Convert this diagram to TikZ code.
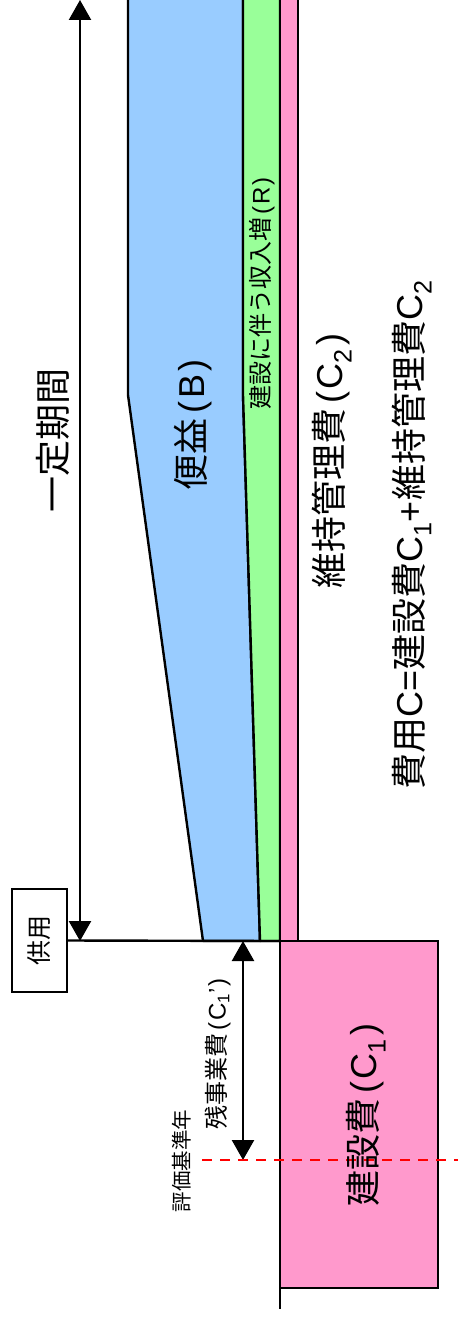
\documentclass[tikz,border=0pt]{standalone}
\usepackage{fontspec}
\setmainfont{Liberation Sans}
\newfontfamily\jp{Noto Sans CJK JP}
\usetikzlibrary{arrows.meta}
\definecolor{blueB}{RGB}{153,204,255}
\definecolor{greenR}{RGB}{153,255,153}
\definecolor{pinkC}{RGB}{255,153,204}
\newcommand{\lp}{\hspace{0.12em}(\hspace{0.08em}}
\newcommand{\rp}{\hspace{0.08em})}
\newcommand{\sbs}[1]{\textsubscript{#1}}
\begin{document}
\begin{tikzpicture}[x=1pt,y=-1pt,
  ln/.style={line width=2.4pt,draw=black},
  arr/.style={ln,{Triangle[width=22pt,length=20pt]}-{Triangle[width=22pt,length=20pt]}},
  big/.style={rotate=90,inner sep=0pt,font=\fontsize{36}{40}\selectfont},
  small/.style={rotate=90,inner sep=0pt,font=\fontsize{24}{28}\selectfont},
  tiny/.style={rotate=90,inner sep=0pt,font=\fontsize{20.5}{24}\selectfont},
  boxed/.style={ln,rotate=90,minimum width=103pt,minimum height=55pt,inner sep=0pt,font=\fontsize{25}{28}\selectfont}]
\clip (0,0) rectangle (458,1319);
\fill[white] (0,0) rectangle (458,1319);
% regions
\filldraw[ln,fill=blueB,line join=round] (128,-10) -- (128,395) -- (203,941) -- (260,941) -- (243,395) -- (243,-10) -- cycle;
\filldraw[ln,fill=greenR,line join=round] (243,-10) -- (243,395) -- (260,941) -- (280,941) -- (280,-10) -- cycle;
\filldraw[ln,fill=pinkC] (280,-10) rectangle (298,941);
\filldraw[ln,fill=pinkC] (280,941) rectangle (438,1288);
% nodes
\node[boxed] (kyoyo) at (39.5,940.5) {\jp 供用};
\coordinate (ptop) at (80,0);
\coordinate (pbot) at (80,941);
\coordinate (hend) at (280,941);
\coordinate (vbot) at (280,1309);
\coordinate (rtop) at (243,941);
\coordinate (rbot) at (243,1160);
\coordinate (dl) at (202,1160);
\coordinate (dr) at (458,1160);
\draw[ln] (kyoyo.south) -- (hend);
\draw[ln] (hend) -- (vbot);
\draw[arr] (ptop) -- (pbot);
\draw[arr] (rtop) -- (rbot);
\draw[red,line width=2.2pt,dash pattern=on 10pt off 8pt] (dl) -- (dr);
% texts
\node[big] (period) at (53,440) {\jp 一定期間};
\node[big] (benefit) at (193,425) {{\jp 便益}\lp B\rp};
\node[small] (income) at (262,293) {{\jp 建設に伴う収入増}\lp R\rp};
\node[big] (maint) at (332,461) {{\jp 維持管理費}\lp C\sbs{2}\rp};
\node[big] (cost) at (412,535) {{\jp 費用}C={\jp 建設費}C\sbs{1}+{\jp 維持管理費}C\sbs{2}};
\node[big] (constr) at (366,1115) {{\jp 建設費}\lp C\sbs{1}\rp};
\node[small] (remain) at (218,1054) {{\jp 残事業費}\lp C\sbs{1}'\rp};
\node[tiny] (base) at (182,1161) {\jp 評価基準年};
\end{tikzpicture}
\end{document}
